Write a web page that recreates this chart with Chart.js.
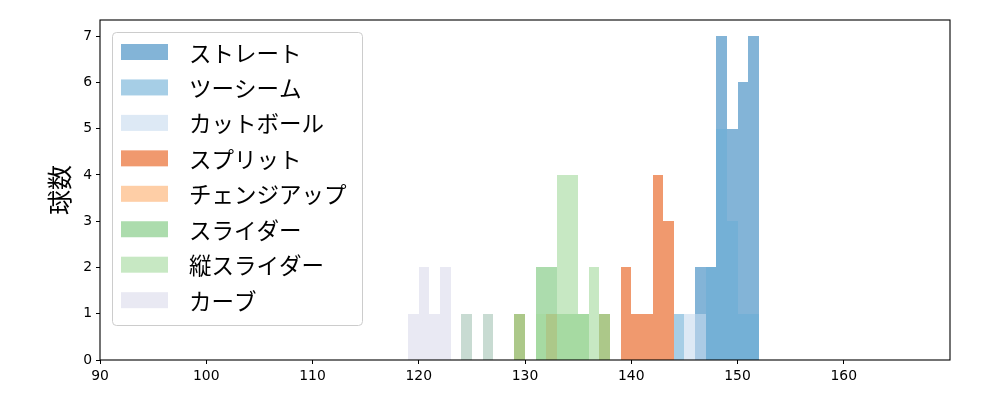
<!DOCTYPE html>
<html>
<head>
<meta charset="utf-8">
<script src="https://cdn.jsdelivr.net/npm/chart.js@4.4.1/dist/chart.umd.min.js"></script>
<style>
  body { margin: 0; background: #fff; }
</style>
</head>
<body>
<canvas id="pitchChart" width="1000" height="400"></canvas>
<script>
//球速ヒストグラム (1km/h 刻み、各ビンの左端)
const pitchNames = ['ストレート', 'ツーシーム', 'カットボール', 'スプリット', 'チェンジアップ', 'スライダー', '縦スライダー', 'カーブ'];
const pitchColors = ['#3182bd', '#6baed6', '#c6dbef', '#e6550d', '#fdae6b', '#74c476', '#a1d99b', '#dadaeb'];

const straightBins = [146, 147, 148, 149, 150, 151];
const straightCounts = [2, 2, 7, 5, 6, 7];
const twoSeamBins = [144, 147, 148, 149, 150, 151];
const twoSeamCounts = [1, 2, 5, 3, 1, 1];
const cutterBins = [145, 146];
const cutterCounts = [1, 1];
const splitBins = [139, 140, 141, 142, 143];
const splitCounts = [2, 1, 1, 4, 3];
const changeupBins = [129, 132, 137];
const changeupCounts = [1, 1, 1];
const sliderBins = [124, 126, 129, 131, 132, 133, 134, 135, 137];
const sliderCounts = [1, 1, 1, 2, 2, 1, 1, 1, 1];
const vSliderBins = [131, 133, 134, 135, 136];
const vSliderCounts = [1, 4, 4, 1, 2];
const curveBins = [119, 120, 121, 122, 124, 126];
const curveCounts = [1, 2, 1, 2, 1, 1];

const xTicks = [90, 100, 110, 120, 130, 140, 150, 160];
const yTicks = [0, 1, 2, 3, 4, 5, 6, 7];

const seriesBins = [straightBins, twoSeamBins, cutterBins, splitBins, changeupBins, sliderBins, vSliderBins, curveBins];
const seriesCounts = [straightCounts, twoSeamCounts, cutterCounts, splitCounts, changeupCounts, sliderCounts, vSliderCounts, curveCounts];

const withAlpha = (hex, a) => {
    const n = parseInt(hex.slice(1), 16);
    return `rgba(${n >> 16}, ${(n >> 8) & 255}, ${n & 255}, ${a})`;
};

const datasets = pitchNames.map((name, i) => ({
    label: name,
    data: seriesBins[i].map((b, j) => ({ x: b + 0.5, y: seriesCounts[i][j] })),
    backgroundColor: withAlpha(pitchColors[i], 0.6),
    borderWidth: 0,
    inflateAmount: 0,
    grouped: false,
    barPercentage: 1,
    categoryPercentage: 1,
    order: pitchNames.length - i   // 後の系列ほど上に描く
}));

// バーの端をピクセルに揃える (隙間の線を消す)
const snapPlugin = {
    id: 'snap',
    afterDatasetsUpdate(chart) {
        chart.data.datasets.forEach((ds, i) => {
            chart.getDatasetMeta(i).data.forEach(el => {
                const l = Math.round(el.x - el.width / 2);
                const r = Math.round(el.x + el.width / 2);
                el.x = (l + r) / 2;
                el.width = r - l;
                el.y = Math.round(el.y);
                el.base = Math.round(el.base);
            });
        });
    }
};

// 枠線と凡例 (プロット内の左上)
const framePlugin = {
    id: 'frame',
    afterDraw(chart) {
        const { ctx, chartArea: a } = chart;
        ctx.save();
        ctx.strokeStyle = '#000';
        ctx.lineWidth = 1.1;
        ctx.strokeRect(a.left, a.top, a.right - a.left, a.bottom - a.top);

        const bx = 112, by = 32, bw = 250, bh = 293;
        ctx.beginPath();
        ctx.roundRect(bx + 0.5, by + 0.5, bw, bh, 4);
        ctx.fillStyle = 'rgba(255,255,255,0.8)';
        ctx.fill();
        ctx.strokeStyle = '#cccccc';
        ctx.lineWidth = 1;
        ctx.stroke();

        ctx.font = '22.5px "Noto Sans CJK JP"';
        ctx.textBaseline = 'middle';
        chart.data.datasets.forEach((ds, i) => {
            const cy = 52 + i * 35.45;
            ctx.fillStyle = ds.backgroundColor;
            ctx.fillRect(121, cy - 8, 47, 16);
            ctx.fillStyle = '#000';
            ctx.fillText(ds.label, 189, cy + 1);
        });
        ctx.restore();
    }
};

new Chart(document.getElementById('pitchChart'), {
    type: 'bar',
    data: { datasets: datasets },
    options: {
        responsive: false,
        animation: false,
        devicePixelRatio: 1,
        layout: { padding: { left: 0, top: 20, right: 50, bottom: 0 } },
        plugins: {
            legend: { display: false },
            tooltip: { enabled: false }
        },
        scales: {
            x: {
                type: 'linear',
                min: 90,
                max: 170,
                offset: false,
                afterBuildTicks: (scale) => { scale.ticks = xTicks.map(v => ({ value: v })); },
                afterFit: (scale) => { scale.height = 40; },
                grid: { offset: false, drawOnChartArea: false, drawTicks: true, tickLength: 4, tickColor: '#000' },
                border: { display: false },
                ticks: { color: '#000', padding: 4, maxRotation: 0, font: { family: 'DejaVu Sans', size: 13.9 } }
            },
            y: {
                min: 0,
                max: 7.35,
                afterBuildTicks: (scale) => { scale.ticks = yTicks.map(v => ({ value: v })); },
                afterFit: (scale) => { scale.width = 100; },
                grid: { drawOnChartArea: false, drawTicks: true, tickLength: 4, tickColor: '#000' },
                border: { display: false },
                ticks: { color: '#000', padding: 4, font: { family: 'DejaVu Sans', size: 13.9 } },
                title: {
                    display: true,
                    text: '球数',
                    color: '#000',
                    padding: { top: 44, bottom: 0 },
                    font: { family: 'Noto Sans CJK JP', size: 25 }
                }
            }
        }
    },
    plugins: [snapPlugin, framePlugin]
});
</script>
</body>
</html>
